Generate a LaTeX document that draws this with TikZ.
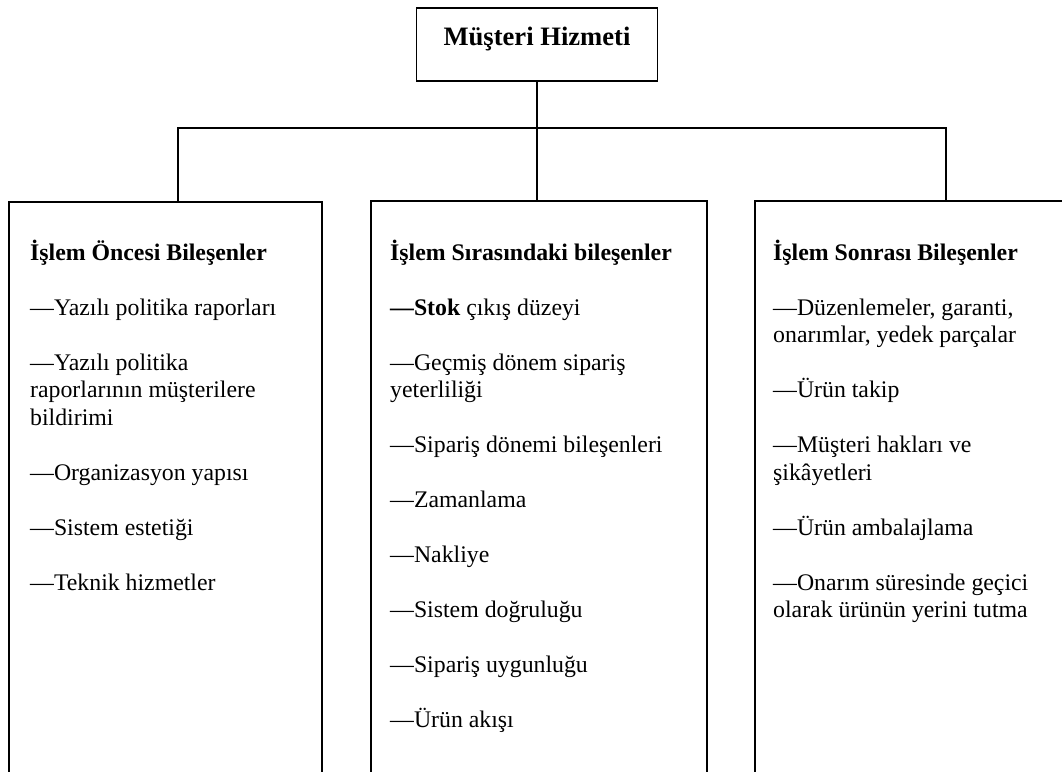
\documentclass[tikz,border=0pt]{standalone}
\usepackage{fontspec}
\setmainfont{Liberation Serif}
\newcommand\bodyfont{\fontsize{23.8}{27.5}\selectfont}
\newcommand\titlefont{\fontsize{26.6}{30}\selectfont\bfseries}
\begin{document}
\begin{tikzpicture}[x=1pt,y=-1pt,
  frame/.style={draw, line width=1.6pt, inner sep=0, anchor=north},
  colbox/.style={frame, minimum height=640pt},
  head/.style={anchor=base west, inner sep=0, font=\bodyfont\bfseries},
  item/.style={anchor=base west, inner sep=0, font=\bodyfont},
  link/.style={draw, line width=1.6pt}]
\useasboundingbox (0,0) rectangle (1062,771);
\clip (0,0) rectangle (1062,771);

% root box
\node[frame, minimum width=241pt, minimum height=73pt] (top) at (537,7) {};
\node[anchor=base, inner sep=0, font=\titlefont] (title) at (537,45) {Müşteri Hizmeti};

% the three open-ended column boxes
\node[colbox, minimum width=313pt] (lbox) at (165.5,201) {};
\node[colbox, minimum width=336pt] (mbox) at (539,200) {};
\node[colbox, minimum width=320pt] (rbox) at (915,200) {};

% tree connectors
\coordinate (bus) at (537,128);
\draw[link] (top.south) -- (bus);
\draw[link] (bus) -| ([xshift=12.5pt]lbox.north);
\draw[link] (bus) -| ([xshift=-2pt]mbox.north);
\draw[link] (bus) -| ([xshift=31pt]rbox.north);

% left column
\node[head] (l0) at (30,260) {İşlem Öncesi Bileşenler};
\node[item] (l1) at (30,315) {—Yazılı politika raporları};
\node[item] (l2a) at (30,370) {—Yazılı politika};
\node[item] (l2b) at (30,397.5) {raporlarının müşterilere};
\node[item] (l2c) at (30,425) {bildirimi};
\node[item] (l3) at (30,480) {—Organizasyon yapısı};
\node[item] (l4) at (30,535) {—Sistem estetiği};
\node[item] (l5) at (30,590) {—Teknik hizmetler};

% middle column
\node[head] (m0) at (390,260) {İşlem Sırasındaki bileşenler};
\node[item] (m1) at (390,315) {\textbf{—Stok} çıkış düzeyi};
\node[item] (m2a) at (390,370) {—Geçmiş dönem sipariş};
\node[item] (m2b) at (390,397.5) {yeterliliği};
\node[item] (m3) at (390,452.5) {—Sipariş dönemi bileşenleri};
\node[item] (m4) at (390,507.5) {—Zamanlama};
\node[item] (m5) at (390,562.5) {—Nakliye};
\node[item] (m6) at (390,617.5) {—Sistem doğruluğu};
\node[item] (m7) at (390,672.5) {—Sipariş uygunluğu};
\node[item] (m8) at (390,727.5) {—Ürün akışı};

% right column
\node[head] (r0) at (773,260) {İşlem Sonrası Bileşenler};
\node[item] (r1a) at (773,315) {—Düzenlemeler, garanti,};
\node[item] (r1b) at (773,342.5) {onarımlar, yedek parçalar};
\node[item] (r2) at (773,397.5) {—Ürün takip};
\node[item] (r3a) at (773,452.5) {—Müşteri hakları ve};
\node[item] (r3b) at (773,480) {şikâyetleri};
\node[item] (r4) at (773,535) {—Ürün ambalajlama};
\node[item] (r5a) at (773,590) {—Onarım süresinde geçici};
\node[item] (r5b) at (773,617.5) {olarak ürünün yerini tutma};
\end{tikzpicture}
\end{document}
